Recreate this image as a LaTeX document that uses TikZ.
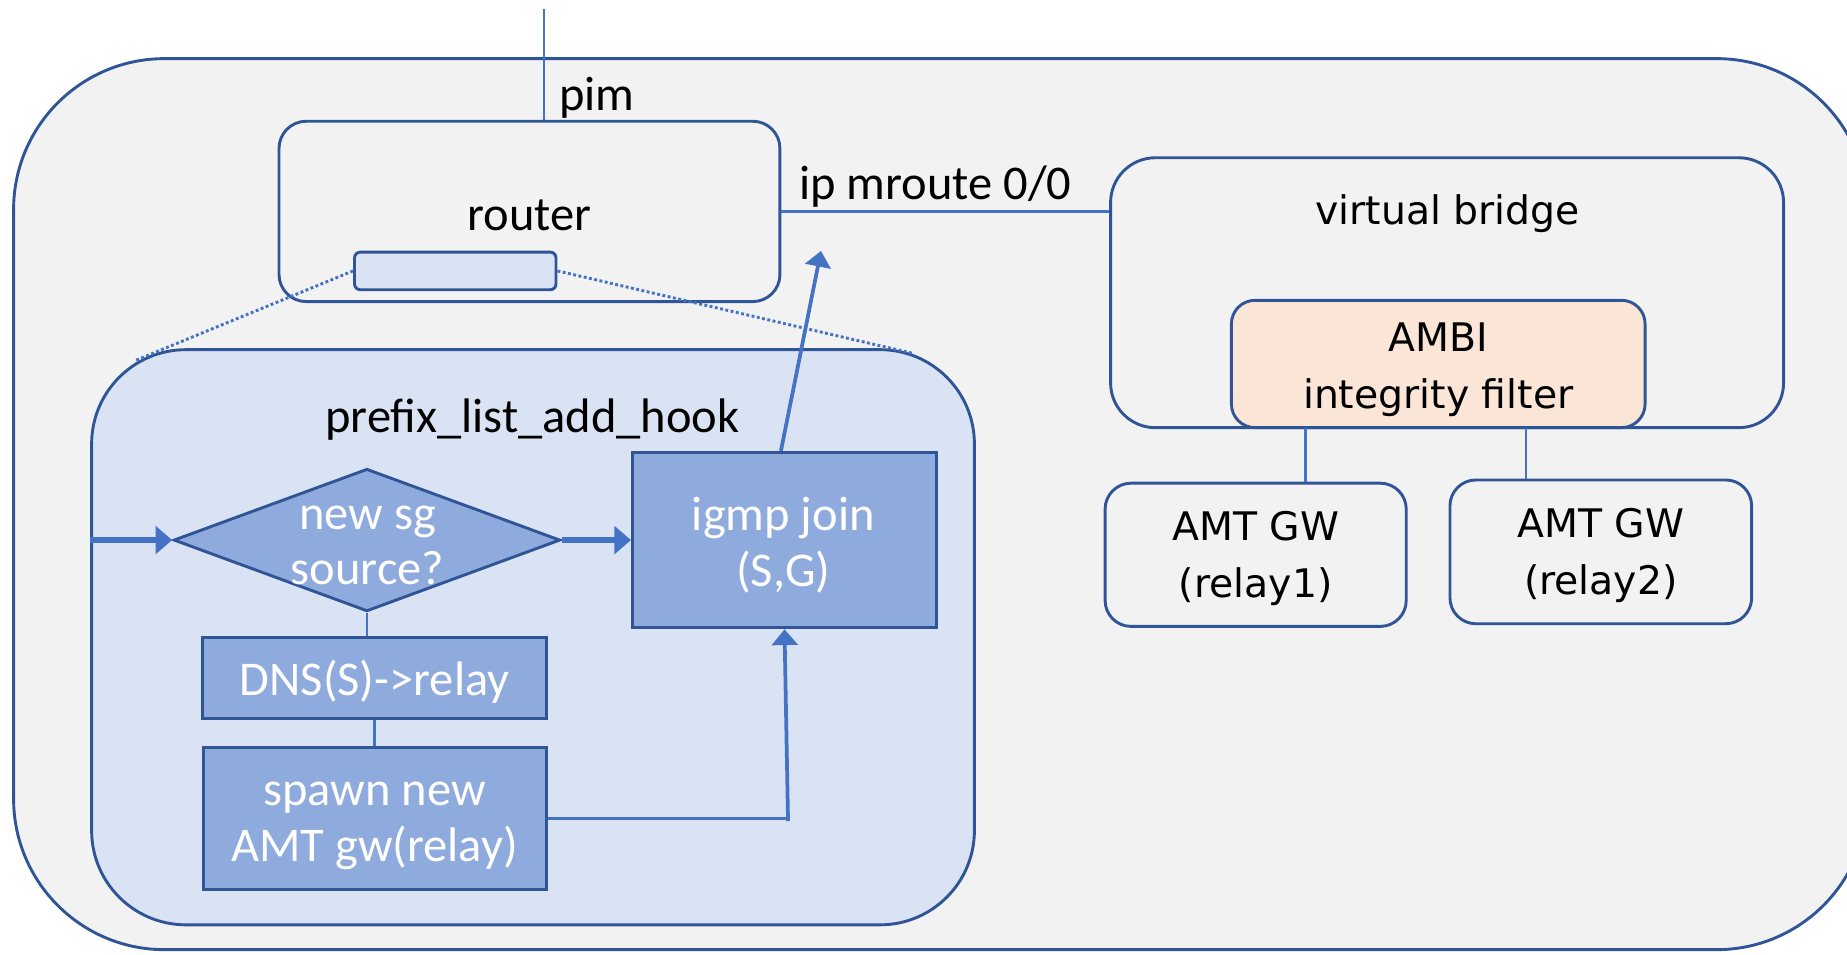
\documentclass[tikz,border=0pt]{standalone}
\usepackage{fontspec}
\setmainfont{Carlito}
\newfontfamily\vfont{DejaVu Sans}
\usetikzlibrary{shapes.geometric,arrows.meta}
\definecolor{edge}{HTML}{2F5597}
\definecolor{conn}{HTML}{4472C4}
\definecolor{bggray}{HTML}{F2F2F2}
\definecolor{lblue}{HTML}{DAE3F3}
\definecolor{mblue}{HTML}{8FAADC}
\definecolor{peach}{HTML}{FBE5D6}
\tikzset{
  cfont/.style={font=\fontsize{11.7}{13.4}\selectfont},
  rfont/.style={font=\vfont\fontsize{9.5}{13.8}\selectfont},
  rbox/.style={draw=edge, line width=0.7pt, inner sep=0pt, rectangle},
  flowbox/.style={rbox, fill=mblue},
  wtext/.style={cfont, text=white, align=center, inner sep=0pt},
  rtext/.style={rfont, align=center, inner sep=0pt},
  wire/.style={draw=conn, line width=0.6pt},
  thickarrow/.style={draw=conn, line width=1.3pt, -{Triangle[length=4pt,width=6.6pt]}},
  slimarrow/.style={draw=conn, line width=0.9pt, -{Triangle[length=3.8pt,width=6.2pt]}},
  dotline/.style={draw=conn, line width=0.7pt, dash pattern=on 0.7pt off 0.6pt},
  lbl/.style={cfont, inner sep=0pt}
}
\begin{document}
\begin{tikzpicture}[x=0.01cm,y=-0.01cm]
\useasboundingbox (0,0) rectangle (1568,810);
\clip (0,0) rectangle (1568,810);
% outer container
\node[rbox, fill=bggray, rounded corners=1.28cm, minimum width=15.73cm, minimum height=7.56cm] (outer) at (798.5,428) {};
% router
\node[rbox, fill=bggray, rounded corners=0.23cm, minimum width=4.25cm, minimum height=1.53cm] (router) at (449.5,179.5) {};
\node[lbl] (routertext) at (449.5,183) {router};
\node[rbox, fill=lblue, rounded corners=0.05cm, minimum width=1.71cm, minimum height=0.32cm] (hook) at (386.5,230) {};
% virtual bridge
\node[rbox, fill=bggray, rounded corners=0.38cm, minimum width=5.71cm, minimum height=2.29cm] (vb) at (1228.5,248.5) {};
\node[rtext] (vbtext) at (1229,181) {virtual bridge};
\node[rbox, fill=peach, rounded corners=0.2cm, minimum width=3.51cm, minimum height=1.08cm] (ambi) at (1221,309) {};
\node[rtext] (ambitext) at (1221,314) {AMBI\\integrity filter};
\node[rbox, fill=bggray, rounded corners=0.22cm, minimum width=2.555cm, minimum height=1.215cm] (r1) at (1066,471) {};
\node[rtext] (r1text) at (1066,474) {AMT GW\\(relay1)};
\node[rbox, fill=bggray, rounded corners=0.22cm, minimum width=2.56cm, minimum height=1.22cm] (r2) at (1359,468.5) {};
\node[rtext] (r2text) at (1359,471.5) {AMT GW\\(relay2)};
% prefix list hook
\node[rbox, fill=lblue, rounded corners=0.8cm, minimum width=7.49cm, minimum height=4.88cm] (prefix) at (452.5,541) {};
\node[lbl] (prefixtext) at (452,356) {prefix\_list\_add\_hook};
\node[diamond, draw=edge, line width=0.7pt, fill=mblue, inner sep=0pt, minimum width=3.28cm, minimum height=1.21cm] (dia) at (311.5,458.5) {};
\node[wtext] (diatext) at (312,463) {new sg\\source?};
\node[flowbox, minimum width=2.58cm, minimum height=1.49cm] (igmp) at (666,458.5) {};
\node[wtext] (igmptext) at (665,463) {igmp join\\(S,G)};
\node[flowbox, minimum width=2.92cm, minimum height=0.69cm] (dns) at (318,575.5) {};
\node[wtext] (dnstext) at (318,578.5) {DNS(S)->relay};
\node[flowbox, minimum width=2.91cm, minimum height=1.2cm] (spawn) at (318,695) {};
\node[wtext] (spawntext) at (318,701) {spawn new\\AMT gw(relay)};
% coordinates
\coordinate (top) at (462,8);
\coordinate (pl) at (115,306);
\coordinate (pr) at (775,300);
\coordinate (rtarget) at (697,213);
\coordinate (corner) at (669,695);
\coordinate (a1) at (1108.5,363);
\coordinate (a2) at (1295.3,363);
% connectors
\draw[wire] (top) -- (top |- router.north);
\node[lbl, anchor=west] (pimtext) at (474,83) {pim};
\draw[wire] (router.east) -- (router.east -| vb.west);
\node[lbl, anchor=west] (mroutetext) at (678,158) {ip mroute 0/0};
\draw[dotline] (hook.west) -- (pl);
\draw[dotline] (hook.east) -- (pr);
\draw[slimarrow] ([xshift=-0.03cm]igmp.north) -- (rtarget);
\draw[thickarrow] (prefix.west |- dia.west) -- (dia.west);
\draw[thickarrow] (dia.east) -- (dia.east -| igmp.west);
\draw[wire] (dia.south) -- (dia.south |- dns.north);
\draw[wire] (dns.south) -- (spawn.north);
\draw[wire] (spawn.east) -- (corner);
\draw[slimarrow] ([yshift=-0.02cm]corner) -- (igmp.south);
\draw[wire] (a1) -- (a1 |- r1.north);
\draw[wire] (a2) -- (a2 |- r2.north);
\end{tikzpicture}
\end{document}
